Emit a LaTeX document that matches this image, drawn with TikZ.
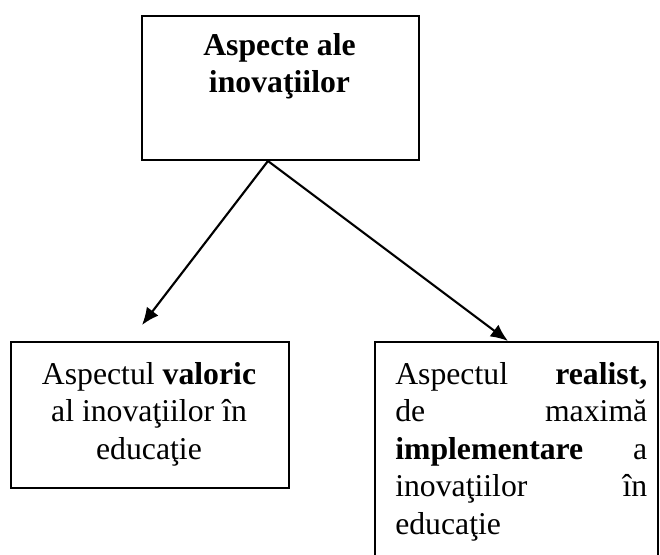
\documentclass[tikz,border=0pt]{standalone}
\usepackage{fontspec}
\setmainfont{Liberation Serif}
\usetikzlibrary{arrows.meta}

\tikzset{
  box/.style={draw, line width=1.5pt, anchor=north west, inner sep=0pt},
  txt/.style={inner sep=0pt, font=\fontsize{23.8}{28.1}\selectfont},
}

\begin{document}
\begin{tikzpicture}[x=0.75pt, y=-0.75pt, >={Latex[length=13pt,width=11pt]}]
	  \useasboundingbox (0,0) rectangle (660,554);
	  % frames
	  \node[box, minimum width=207.75pt, minimum height=108pt] (aspecte) at (141,15) {};
	  \node[box, minimum width=208.5pt, minimum height=109.5pt] (valoric) at (10,341) {};
	  \node[box, minimum width=212.25pt, minimum height=171.75pt] (realist) at (374,341) {};
	  % texts
	  \node[txt, anchor=north, align=center] (aspecteText) at (279.5,33)
	  {\textbf{Aspecte ale}\\\textbf{inovaţiilor}};
	  \node[txt, anchor=north, align=center] (valoricText) at (149,362)
	  {Aspectul \textbf{valoric}\\al inovaţiilor în\\educaţie};
	  \node[txt, anchor=north west, text width=189pt, align=left] (realistText) at (395,362)
	  {Aspectul\hfill\textbf{realist,}\\de\hfill maximă\\\textbf{implementare}\hfill a\\inovaţiilor\hfill în\\educaţie};
	  % arrows
	  \coordinate (fork) at ([xshift=-9.4pt]aspecte.south);
	  \coordinate (valoricTip) at (142,325);
	  \coordinate (realistTip) at ([xshift=-6.4pt]realist.north);
	  \draw[->, line width=1.6pt] (fork) -- (valoricTip);
	  \draw[->, line width=1.6pt] (fork) -- (realistTip);
	\end{tikzpicture}
\end{document}
